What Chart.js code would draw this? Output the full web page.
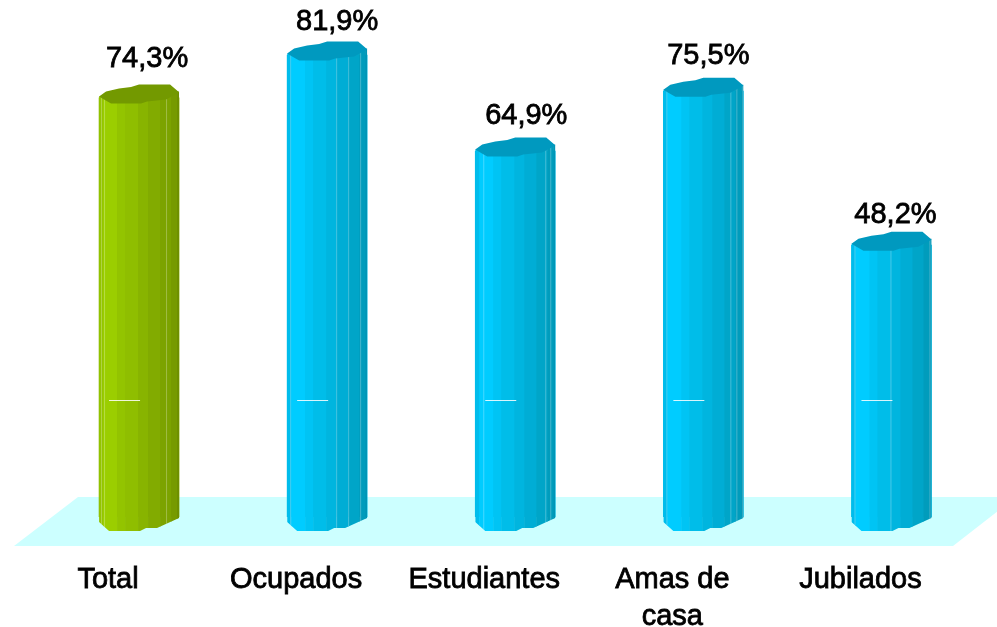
<!DOCTYPE html>
<html lang="es">
<head>
<meta charset="utf-8">
<title>Grafico</title>
<script src="https://cdn.jsdelivr.net/npm/chart.js@4/dist/chart.umd.min.js"></script>
<style>
  html, body { margin: 0; padding: 0; background: #fff; overflow: hidden; }
  canvas { display: block; }
</style>
</head>
<body>
<canvas id="grafico" width="997" height="627"></canvas>
<script>
const categorias = ["Total", "Ocupados", "Estudiantes", ["Amas de", "casa"], "Jubilados"];
const valores = [74.3, 81.9, 64.9, 75.5, 48.2];

// marca blanca que aparece en cada columna
const valorMarca = 20.7;

const verde = {
  tapa: "#739900",
  franjas: ["#93c400", "#9bce00", "#93c400", "#8fbe00", "#88b400", "#82ab00", "#7ca300", "#769a00", "#6e8f00"]
};
const azul = {
  tapa: "#0099bf",
  franjas: ["#00bcec", "#00ccff", "#00c4f4", "#00bde9", "#00b5df", "#00add5", "#00a5c8", "#009cbc", "#0095b5"]
};
const cortes = [-36, -22, -14, -1, 9, 21, 32, 38, 40];
const brillos = [[-38, -35, 27], [-37, 9, 21, 33], [-32, 30, 35], [-37, 27, 33, 39], [-37, -1, 38]];
const desvioEtiquetaX = [8, 10, 11, 5, 4];
const desvioEtiquetaY = [-39, -33, -35, -35, -30];

const contornoTapa = [[-40, 0], [-33, -5], [-20, -8], [-8, -9.5], [0, -12], [31, -12], [38, -6], [40, -4],
  [27, 3], [8, 5], [2, 7], [-28, 7], [-35, 3]];
const contornoPie = [[40, 1], [18, 11], [7, 11], [1, 14], [-30, 14], [-40, 5]];

function trazar(ctx, puntos) {
  ctx.beginPath();
  puntos.forEach((p, i) => {
    if (i === 0) ctx.moveTo(p[0], p[1]);
    else ctx.lineTo(p[0], p[1]);
  });
  ctx.closePath();
}

const columnas = {
  id: "columnas",
  beforeDatasetsDraw(chart) {
    // piso celeste
    const ctx = chart.ctx;
    const abajo = chart.chartArea.bottom;
    ctx.save();
    ctx.fillStyle = "#ccffff";
    trazar(ctx, [[78, abajo - 20], [1016, abajo - 20], [953, abajo + 29], [14, abajo + 29]]);
    ctx.fill();
    ctx.restore();
  },
  afterDatasetsDraw(chart) {
    const ctx = chart.ctx;
    const escalaY = chart.scales.y;
    chart.getDatasetMeta(0).data.forEach((barra, i) => {
      const cx = barra.x;
      const arriba = barra.y - 1.5;
      const base = barra.base;
      const estilo = i === 0 ? verde : azul;

      ctx.save();
      const cuerpo = [[cx - 40, arriba], [cx, arriba - 5], [cx + 40, arriba - 5]];
      contornoPie.forEach(p => cuerpo.push([cx + p[0], base + p[1]]));
      trazar(ctx, cuerpo);
      ctx.clip();
      let desde = cx - 40;
      estilo.franjas.forEach((color, k) => {
        ctx.fillStyle = color;
        ctx.fillRect(desde, arriba - 6, cx + cortes[k] - desde + 0.5, base + 22 - arriba);
        desde = cx + cortes[k];
      });
      ctx.fillStyle = "rgba(255,255,255,0.28)";
      brillos[i].forEach(dx => ctx.fillRect(cx + dx, arriba - 6, 1, base + 22 - arriba));
      ctx.restore();

      ctx.fillStyle = estilo.tapa;
      trazar(ctx, contornoTapa.map(p => [cx + p[0], arriba + p[1]]));
      ctx.fill();

      ctx.fillStyle = "rgba(255,255,255,0.85)";
      ctx.fillRect(cx - 30, Math.round(escalaY.getPixelForValue(valorMarca)), 31, 1);

      const texto = String(valores[i]).replace(".", ",") + "%";
      ctx.fillStyle = "#000000";
      ctx.strokeStyle = "#000000";
      ctx.lineWidth = 0.8;
      ctx.font = '29px "Liberation Sans", Arial, sans-serif';
      ctx.textAlign = "center";
      ctx.textBaseline = "middle";
      ctx.fillText(texto, cx + desvioEtiquetaX[i], barra.y + desvioEtiquetaY[i]);
      ctx.strokeText(texto, cx + desvioEtiquetaX[i], barra.y + desvioEtiquetaY[i]);
    });
  }
};

new Chart(document.getElementById("grafico"), {
  type: "bar",
  data: {
    labels: categorias,
    datasets: [{
      data: valores,
      barThickness: 80,
      backgroundColor: valores.map((v, i) => (i === 0 ? "#88b400" : "#00bde9"))
    }]
  },
  options: {
    responsive: false,
    animation: false,
    layout: { padding: { left: 45, right: 11.5, top: 9.4, bottom: 0 } },
    plugins: { legend: { display: false }, tooltip: { enabled: false } },
    scales: {
      y: { display: false, min: 0, max: 90 },
      x: {
        grid: { display: false },
        border: { display: false },
        afterFit(escala) { escala.height = 110; },
        ticks: {
          autoSkip: false,
          maxRotation: 0,
          padding: 36,
          labelOffset: -31,
          color: "#000000",
          textStrokeColor: "#000000",
          textStrokeWidth: 0.8,
          font: { family: '"Liberation Sans", Arial, sans-serif', size: 29, lineHeight: 1.28 }
        }
      }
    }
  },
  plugins: [columnas]
});
</script>
</body>
</html>
